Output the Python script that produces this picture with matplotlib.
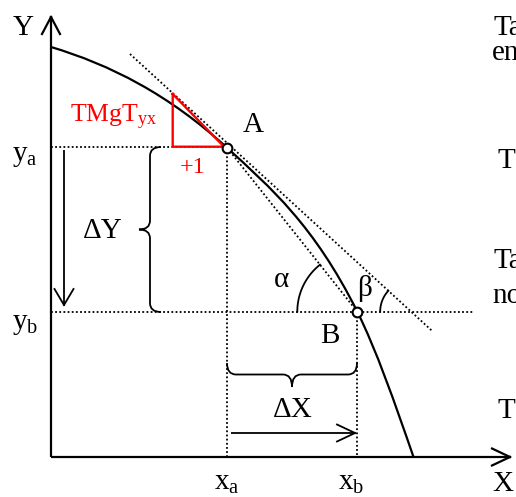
import numpy as np
import matplotlib
matplotlib.use("Agg")
import matplotlib.pyplot as plt
from matplotlib.path import Path
from matplotlib.patches import PathPatch

plt.rcParams['font.family'] = ['Liberation Serif', 'DejaVu Serif']
plt.rcParams['mathtext.fontset'] = 'custom'
plt.rcParams['mathtext.rm'] = 'Liberation Serif'
plt.rcParams['mathtext.it'] = 'Liberation Serif:italic'

# diagram geometry (pixel units, y grows downwards)
origin = (51, 457)
y_axis_top = 17
x_axis_right = 510

# transformation frontier: anchor points and slopes there (start, A, B, end)
curve_x = [51, 227.3, 357.3, 413.5]
curve_y = [47, 148, 311.7, 457]
curve_slope = [0.3, 0.917, 2.0, 2.9]

# dotted tangent (marginal rate)
tangent_x = [130, 433]
tangent_y = [54, 331.7]

# red marginal triangle
triangle_x = [172.7, 172.7, 224, 172.7]
triangle_y = [94, 146.7, 146.7, 94]

# only the start of the side text is visible at the right edge
right_text = [
    (493, 35, "Ta"),
    (492, 60, "en"),
    (498, 168, "T"),
    (493, 268, "Ta"),
    (492, 303, "no"),
    (498, 418, "T"),
]

BLACK = "#000000"
RED = "#ff0000"
DOT = (0, (1, 1.3))

fig = plt.figure(figsize=(5.16, 4.97), dpi=100)
ax = fig.add_axes([0, 0, 1, 1])
ax.set_xlim(0, 516)
ax.set_ylim(497, 0)
ax.axis("off")


def open_arrow(x0, y0, x1, y1, length, half, lw=1.3):
    ax.plot([x0, x1], [y0, y1], color=BLACK, lw=lw, solid_capstyle="butt")
    d = np.array([x1 - x0, y1 - y0], dtype=float)
    d /= np.hypot(*d)
    n = np.array([-d[1], d[0]])
    tip = np.array([x1, y1])
    base = tip - d * length
    for s in (1, -1):
        w = base + s * n * half
        ax.plot([w[0], tip[0]], [w[1], tip[1]], color=BLACK, lw=lw)


def brace(a0, a1, end, line, tip, r=9, vertical=False):
    # curly brace between a0 and a1; "end" is where the ends sit,
    # "line" the straight part, "tip" the point in the middle
    m = (a0 + a1) / 2
    s = 1 if a1 > a0 else -1
    pts = [(a0, end), (a0, line), (a0 + s * r, line),
           (m - s * r, line), (m, line), (m, tip),
           (m, line), (m + s * r, line),
           (a1 - s * r, line), (a1, line), (a1, end)]
    codes = [Path.MOVETO, Path.CURVE3, Path.CURVE3,
             Path.LINETO, Path.CURVE3, Path.CURVE3,
             Path.CURVE3, Path.CURVE3,
             Path.LINETO, Path.CURVE3, Path.CURVE3]
    if vertical:
        pts = [(q, p) for p, q in pts]
    ax.add_patch(PathPatch(Path(pts, codes), fill=False, color=BLACK, lw=1.3))


# frontier as hermite segments drawn by matplotlib bezier paths
verts = [(curve_x[0], curve_y[0])]
codes = [Path.MOVETO]
for i in range(len(curve_x) - 1):
    dx = (curve_x[i + 1] - curve_x[i]) / 3
    verts += [(curve_x[i] + dx, curve_y[i] + dx * curve_slope[i]),
              (curve_x[i + 1] - dx, curve_y[i + 1] - dx * curve_slope[i + 1]),
              (curve_x[i + 1], curve_y[i + 1])]
    codes += [Path.CURVE4] * 3
ax.add_patch(PathPatch(Path(verts, codes), fill=False, color=BLACK, lw=1.6, zorder=3))

ax_x, ax_y = curve_x[1], curve_y[1]
bx, by = curve_x[2], curve_y[2]

# dotted guides
ax.plot([origin[0], ax_x], [147, 147], color=BLACK, lw=1.3, ls=DOT)
ax.plot([ax_x, ax_x], [ax_y, origin[1]], color=BLACK, lw=1.3, ls=DOT)
ax.plot([origin[0], 473], [by, by], color=BLACK, lw=1.3, ls=DOT)
ax.plot([bx, bx], [by, origin[1]], color=BLACK, lw=1.3, ls=DOT)
ax.plot(tangent_x, tangent_y, color=BLACK, lw=1.3, ls=DOT)
ax.plot([ax_x, bx], [ax_y, by], color=BLACK, lw=1.3, ls=DOT)

# red triangle
ax.plot(triangle_x, triangle_y, color=RED, lw=1.7, zorder=4)

# axes
open_arrow(origin[0], origin[1], origin[0], y_axis_top, 17, 9, lw=1.6)
open_arrow(origin[0], origin[1], x_axis_right, origin[1], 18, 8.5, lw=1.6)

# delta arrows and braces
open_arrow(64, 150, 64, 305, 16, 9.5)
open_arrow(231, 433, 355, 433, 18, 8.5)
brace(147, 312, 161, 150, 139, vertical=True)
brace(227, 357, 363, 374.5, 387)

# angles
slope_chord = np.arctan2(ax_y - by, ax_x - bx)
th = np.linspace(np.pi, 2 * np.pi + slope_chord, 40)
ax.plot(bx + 60 * np.cos(th), by + 60 * np.sin(th), color=BLACK, lw=1.3)
tslope = (tangent_y[1] - tangent_y[0]) / (tangent_x[1] - tangent_x[0])
cx = tangent_x[0] + (by - tangent_y[0]) / tslope
th = np.linspace(np.pi, np.pi + np.arctan(tslope), 30)
ax.plot(cx + 31 * np.cos(th), by + 31 * np.sin(th), color=BLACK, lw=1.3)

# points A and B
ax.plot([ax_x, bx], [ax_y, by], ls="none", marker="o", ms=7, mfc="white",
        mec=BLACK, mew=1.5, zorder=5)

big = 21
ax.text(13, 35, "Y", fontsize=big, va="baseline")
ax.text(12, 161, r"y$_{\mathrm{a}}$", fontsize=big, va="baseline")
ax.text(12, 329, r"y$_{\mathrm{b}}$", fontsize=big, va="baseline")
ax.text(214, 490, r"x$_{\mathrm{a}}$", fontsize=big, va="baseline")
ax.text(338, 490, r"x$_{\mathrm{b}}$", fontsize=big, va="baseline")
ax.text(492, 491, "X", fontsize=big, va="baseline")
ax.text(243, 132, "A", fontsize=big, va="baseline")
ax.text(320, 343, "B", fontsize=big, va="baseline")
ax.text(83, 238, "ΔY", fontsize=big, va="baseline")
ax.text(273, 417, "ΔX", fontsize=big, va="baseline")
ax.text(274, 287, "α", fontsize=big, va="baseline")
ax.text(357, 296, "β", fontsize=big, va="baseline")
ax.text(70, 122, r"TMgT$_{\mathrm{yx}}$", fontsize=18.5, color=RED, va="baseline")
ax.text(180, 173, "+1", fontsize=17.5, color=RED, va="baseline")

for x, y, s in right_text:
    ax.text(x, y, s, fontsize=big, va="baseline")

fig.savefig("out.png", dpi=100)
